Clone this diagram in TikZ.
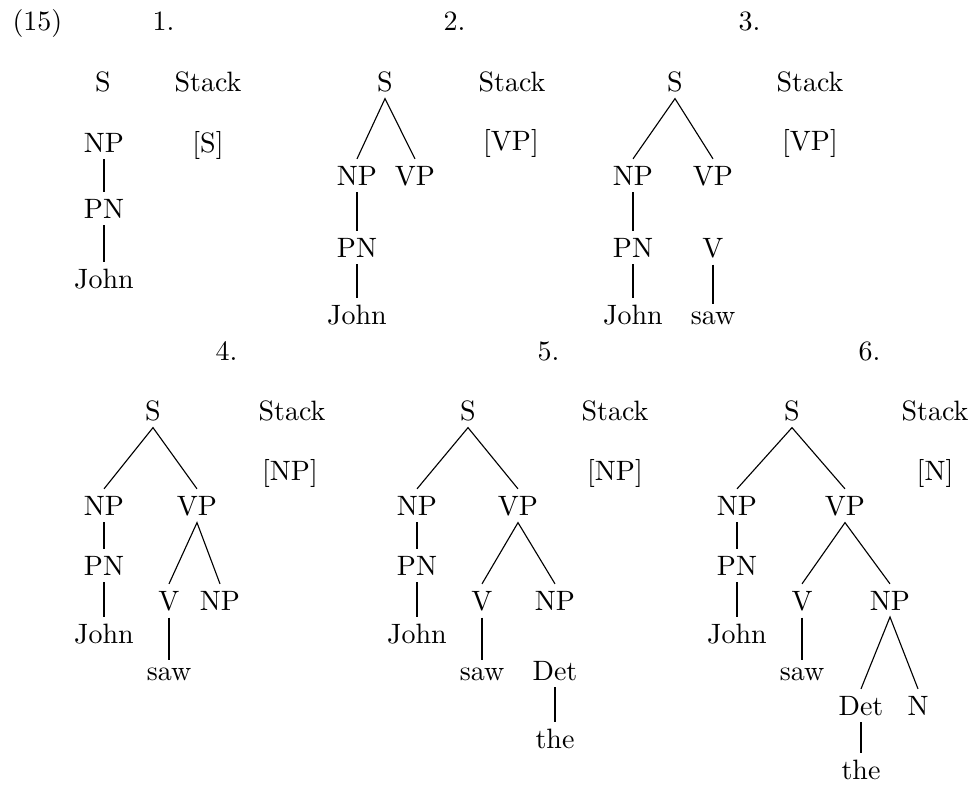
\documentclass[tikz,border=0pt]{standalone}
\usepackage{tikz}

\begin{document}
\begin{tikzpicture}[x=0.357pt, y=-0.357pt, line cap=butt,
    cat/.style={anchor=base, inner xsep=1pt, inner ysep=2.3pt},
    nummer/.style={anchor=base west, inner sep=0pt},
    tak/.style={line width=0.4pt},
    stam/.style={line width=0.8pt}]
  \useasboundingbox (0,0) rectangle (973,784);

  % Nummers boven elke stap
  \node[nummer] (nr) at (12,30) {(15)};
  \foreach \s/\x/\y in {1/152/30, 2/443/30, 3/738/30, 4/215/360, 5/537/360, 6/858/360}
    \node[nummer] (stap\s) at (\x,\y) {\s.};

  % Stap 1
  \node[cat] (a-S) at (103,91) {S};
  \node[cat] (a-stack) at (208,91) {Stack};
  \node[cat] (a-top) at (208,152) {[S]};
  \node[cat] (a-NP) at (104,152) {NP};
  \node[cat] (a-PN) at (104,218) {PN};
  \node[cat] (a-John) at (104,288) {John};
  \draw[stam] (a-NP.south) -- (a-PN.north) (a-PN.south) -- (a-John.north);

  % Stap 2
  \node[cat] (b-S) at (385,91) {S};
  \node[cat] (b-stack) at (512,91) {Stack};
  \node[cat] (b-top) at (511,150) {[VP]};
  \node[cat] (b-NP) at (357,185) {NP};
  \node[cat] (b-VP) at (415,185) {VP};
  \node[cat] (b-PN) at (357,257) {PN};
  \node[cat] (b-John) at (357,324) {John};
  \draw[tak] (b-NP.north) -- (b-S.south) -- (b-VP.north);
  \draw[stam] (b-NP.south) -- (b-PN.north) (b-PN.south) -- (b-John.north);

  % Stap 3
  \node[cat] (c-S) at (675,91) {S};
  \node[cat] (c-stack) at (810,91) {Stack};
  \node[cat] (c-top) at (810,150) {[VP]};
  \node[cat] (c-NP) at (633,185) {NP};
  \node[cat] (c-VP) at (713,185) {VP};
  \node[cat] (c-PN) at (633,257) {PN};
  \node[cat] (c-V) at (713,257) {V};
  \node[cat] (c-John) at (633,324) {John};
  \node[cat] (c-saw) at (713,324) {saw};
  \draw[tak] (c-NP.north) -- (c-S.south) -- (c-VP.north);
  \draw[stam] (c-NP.south) -- (c-PN.north) (c-PN.south) -- (c-John.north)
    (c-V.south) -- (c-saw.north);

  % Stap 4
  \node[cat] (d-S) at (153,420) {S};
  \node[cat] (d-stack) at (292,420) {Stack};
  \node[cat] (d-top) at (290,480) {[NP]};
  \node[cat] (d-NP) at (104,515) {NP};
  \node[cat] (d-VP) at (197,515) {VP};
  \node[cat] (d-PN) at (104,575) {PN};
  \node[cat] (d-V) at (169,610) {V};
  \node[cat] (d-NP2) at (220,610) {NP};
  \node[cat] (d-John) at (104,643) {John};
  \node[cat] (d-saw) at (169,680) {saw};
  \draw[tak] (d-NP.north) -- (d-S.south) -- (d-VP.north);
  \draw[tak] (d-V.north) -- (d-VP.south) -- (d-NP2.north);
  \draw[stam] (d-NP.south) -- (d-PN.north) (d-PN.south) -- (d-John.north)
    (d-V.south) -- (d-saw.north);

  % Stap 5
  \node[cat] (e-S) at (468,420) {S};
  \node[cat] (e-stack) at (615,420) {Stack};
  \node[cat] (e-top) at (615,480) {[NP]};
  \node[cat] (e-NP) at (417,515) {NP};
  \node[cat] (e-VP) at (518,515) {VP};
  \node[cat] (e-PN) at (417,575) {PN};
  \node[cat] (e-V) at (482,610) {V};
  \node[cat] (e-NP2) at (555,610) {NP};
  \node[cat] (e-John) at (417,643) {John};
  \node[cat] (e-saw) at (482,680) {saw};
  \node[cat] (e-Det) at (555,680) {Det};
  \node[cat] (e-the) at (555,748) {the};
  \draw[tak] (e-NP.north) -- (e-S.south) -- (e-VP.north);
  \draw[tak] (e-V.north) -- (e-VP.south) -- (e-NP2.north);
  \draw[stam] (e-NP.south) -- (e-PN.north) (e-PN.south) -- (e-John.north)
    (e-V.south) -- (e-saw.north) (e-Det.south) -- (e-the.north);

  % Stap 6
  \node[cat] (f-S) at (792,420) {S};
  \node[cat] (f-stack) at (935,420) {Stack};
  \node[cat] (f-top) at (935,480) {[N]};
  \node[cat] (f-NP) at (737,515) {NP};
  \node[cat] (f-VP) at (845,515) {VP};
  \node[cat] (f-PN) at (737,575) {PN};
  \node[cat] (f-V) at (802,610) {V};
  \node[cat] (f-NP2) at (890,610) {NP};
  \node[cat] (f-John) at (737,643) {John};
  \node[cat] (f-saw) at (802,680) {saw};
  \node[cat] (f-Det) at (861,715) {Det};
  \node[cat] (f-N) at (918,715) {N};
  \node[cat] (f-the) at (861,779) {the};
  \draw[tak] (f-NP.north) -- (f-S.south) -- (f-VP.north);
  \draw[tak] (f-V.north) -- (f-VP.south) -- (f-NP2.north);
  \draw[tak] (f-Det.north) -- (f-NP2.south) -- (f-N.north);
  \draw[stam] (f-NP.south) -- (f-PN.north) (f-PN.south) -- (f-John.north)
    (f-V.south) -- (f-saw.north) (f-Det.south) -- (f-the.north);
\end{tikzpicture}
\end{document}
